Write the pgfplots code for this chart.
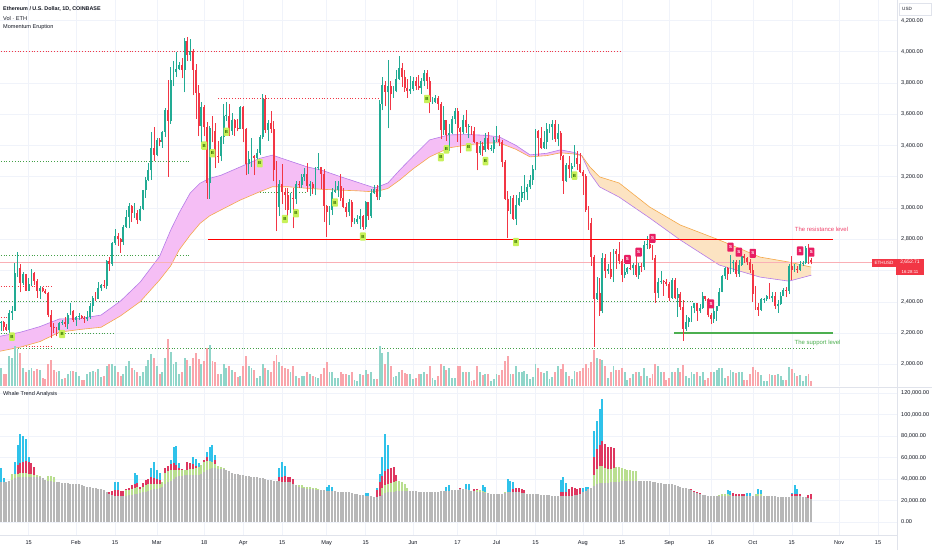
\documentclass[border=0pt]{standalone}
\usepackage{pgfplots}
\pgfplotsset{compat=1.18}
\usepackage{pgfplotstable}
\usepackage{fontspec}
\setmainfont{Liberation Sans}

\definecolor{upc}{HTML}{22AB94}
\definecolor{downc}{HTML}{F23645}
\definecolor{textc}{HTML}{131722}
\definecolor{gridc}{HTML}{F0F3FA}
\definecolor{sepc}{HTML}{E0E3EB}
\definecolor{purpc}{HTML}{B57BE8}
\definecolor{pinkf}{HTML}{F5BEF5}
\definecolor{orc}{HTML}{F5A94A}
\definecolor{orf}{HTML}{FCE3C2}
\definecolor{cyanc}{HTML}{2FC2EA}
\definecolor{crimc}{HTML}{DE3760}
\definecolor{lgrc}{HTML}{B9DE8F}
\definecolor{grayc}{HTML}{B7B7B7}
\definecolor{bfill}{HTML}{C8F15A}
\definecolor{btext}{HTML}{2E6B00}
\definecolor{sfill}{HTML}{E91E63}
\definecolor{restextc}{HTML}{F0466E}
\definecolor{supc}{HTML}{4CAF50}
\definecolor{dotr}{HTML}{F23645}
\definecolor{dotg}{HTML}{43A047}

\newcommand{\tvf}{\fontsize{5.6}{6.5}\selectfont}
\newcommand{\tvs}{\fontsize{4.6}{5.2}\selectfont}
\newcommand{\labf}{\fontsize{4.4}{5}\selectfont\bfseries}

\pgfplotstableread{
d o h l c v g
3 2210 2295 2200 2268 22 37.5
4 2268 2280 2210 2268 18 37.5
5 2268 2275 2215 2240 12 37.5
6 2240 2260 2215 2222 12 37.5
7 2222 2350 2160 2330 30 38
8 2330 2370 2285 2344 28 39.5
9 2344 2645 2345 2585 40 41
10 2585 2717 2558 2617 37 42
11 2617 2640 2460 2522 33 42
12 2522 2590 2505 2575 18 42
13 2575 2580 2470 2472 14 42
14 2472 2555 2470 2511 16 42
15 2511 2612 2500 2587 18 42
16 2587 2590 2510 2530 15 42
17 2530 2545 2425 2467 17 42
18 2467 2500 2415 2490 16 41.5
19 2490 2495 2460 2471 8 40.5
20 2471 2480 2450 2455 7 39.5
21 2455 2465 2300 2316 22 38.5
22 2316 2345 2168 2241 26 38
23 2241 2265 2200 2236 16 37.5
24 2236 2240 2180 2218 14 37
25 2218 2270 2195 2267 15 37
26 2267 2285 2250 2268 7 36.5
27 2268 2300 2240 2255 8 36.5
28 2255 2325 2225 2318 12 36
29 2318 2390 2315 2342 15 35.5
30 2342 2350 2270 2283 15 35.5
31 2283 2310 2245 2304 14 35
32 2304 2325 2285 2309 10 35
33 2309 2315 2290 2296 6 34
34 2296 2310 2265 2290 6 33.5
35 2290 2340 2275 2300 12 33
36 2300 2395 2290 2373 14 32.5
37 2373 2435 2335 2422 15 32
38 2422 2460 2405 2420 14 31.5
39 2420 2525 2415 2485 17 31
40 2485 2515 2470 2505 9 30.5
41 2505 2540 2490 2500 10 29.5
42 2500 2665 2480 2659 20 28
43 2659 2685 2600 2641 22 26
44 2641 2785 2630 2776 22 25
45 2776 2865 2765 2823 20 24.4
46 2823 2840 2760 2804 14 24.2
47 2804 2805 2715 2785 10 24
48 2785 2890 2765 2881 12 24
49 2881 2985 2875 2942 20 24.5
50 2942 3035 2870 3014 25 25
51 3014 3020 2910 2967 18 25.5
52 2967 3030 2935 2971 16 26
53 2971 2990 2900 2921 14 26.5
54 2921 3010 2915 2992 10 27
55 2992 3115 2985 3112 14 27.5
56 3112 3200 3065 3178 20 28
57 3178 3285 3170 3242 26 29
58 3242 3489 3180 3384 32 29.5
59 3384 3520 3300 3341 28 30.5
60 3341 3450 3330 3433 20 31
61 3433 3445 3395 3421 12 31.5
62 3421 3490 3385 3488 14 33
63 3488 3640 3455 3627 28 35
64 3627 3822 3200 3554 47 37
65 3554 3900 3540 3818 34 38.5
66 3818 3940 3780 3870 22 40
67 3870 3995 3840 3890 24 41.5
68 3890 3935 3880 3914 12 42.8
69 3914 3960 3830 3880 14 43
70 3880 4085 3740 4066 28 43.5
71 4066 4093 3940 3982 26 43.5
72 3982 4083 3940 4003 20 44
73 4003 4015 3720 3880 28 44
74 3880 3920 3570 3735 33 44
75 3735 3785 3460 3522 27 44
76 3522 3680 3410 3644 22 45
77 3644 3660 3460 3520 25 46.5
78 3520 3550 3056 3157 38 48
79 3157 3525 3060 3514 41 49
80 3514 3590 3420 3492 25 50
81 3492 3545 3255 3335 24 50
82 3335 3430 3290 3330 12 49.5
83 3330 3460 3300 3451 12 49
84 3451 3665 3410 3590 22 49
85 3590 3675 3555 3590 18 48
86 3590 3665 3460 3491 20 47
87 3491 3610 3470 3560 16 46
88 3560 3570 3460 3510 14 45
89 3510 3570 3490 3508 9 44.5
90 3508 3655 3505 3646 10 44
91 3646 3650 3420 3503 20 43.5
92 3503 3510 3210 3280 30 43
93 3280 3365 3215 3312 20 42.5
94 3312 3445 3265 3330 18 42
95 3330 3340 3210 3317 16 42
96 3317 3375 3300 3351 8 41.5
97 3351 3465 3340 3455 10 41
98 3455 3730 3440 3697 22 40.5
99 3697 3720 3480 3502 18 40
100 3502 3560 3430 3545 16 39.5
101 3545 3620 3480 3503 14 39
102 3503 3555 3170 3240 25 38.5
103 3240 3300 2852 3007 31 38
104 3007 3180 2950 3155 24 38
105 3155 3280 3025 3101 20 37.5
106 3101 3125 2990 3082 18 37.5
107 3082 3125 2920 2985 17 37
108 2985 3095 2965 3064 14 37
109 3064 3125 2870 3056 20 35.5
110 3056 3175 3025 3156 10 34
111 3156 3175 3125 3147 8 33
112 3147 3220 3130 3200 10 32
113 3200 3255 3175 3220 10 31.5
114 3220 3290 3105 3138 14 31
115 3138 3170 3075 3156 12 30.8
116 3156 3165 3090 3131 10 30.5
117 3131 3260 3080 3255 9 30
118 3255 3355 3240 3262 8 30
119 3262 3265 3120 3215 12 29.5
120 3215 3250 2910 3013 18 29.5
121 3013 3020 2815 2972 24 29
122 2972 3015 2890 2988 14 29
123 2988 3125 2955 3103 14 28.5
124 3103 3170 3095 3117 8 28.5
125 3117 3170 3070 3138 8 28
126 3138 3220 3045 3065 14 28
127 3065 3130 3000 3005 12 28
128 3005 3030 2940 2975 12 27.5
129 2975 3055 2950 3036 11 27.5
130 3036 3050 2880 2910 14 27
131 2910 2935 2895 2912 6 26.5
132 2912 2955 2900 2929 5 26
133 2929 2995 2865 2950 12 25.5
134 2950 2955 2860 2881 11 25
135 2881 3045 2865 3036 16 24.5
136 3036 3040 2925 2946 12 24.4
137 2946 3120 2935 3094 14 24
138 3094 3145 3090 3123 7 23.5
139 3123 3145 3050 3072 7 23
140 3072 3690 3050 3665 40 24
141 3665 3840 3625 3790 33 25.5
142 3790 3815 3650 3740 22 27
143 3740 3945 3510 3780 34 27.5
144 3780 3815 3625 3729 20 28
145 3729 3780 3705 3747 9 28
146 3747 3885 3740 3826 10 28.5
147 3826 3975 3820 3893 14 28.5
148 3893 3930 3775 3841 16 29
149 3841 3880 3745 3766 13 29
150 3766 3825 3705 3748 12 29
151 3748 3845 3730 3762 12 29
152 3762 3835 3750 3815 7 28.5
153 3815 3840 3755 3781 8 28.5
154 3781 3850 3755 3767 12 28
155 3767 3830 3730 3810 12 28
156 3810 3885 3780 3866 14 27.5
157 3866 3880 3760 3812 12 27.5
158 3812 3840 3605 3678 20 27.5
159 3678 3710 3665 3681 8 27.5
160 3681 3720 3670 3706 6 28
161 3706 3715 3630 3668 10 28
162 3668 3675 3440 3497 22 28.5
163 3497 3655 3470 3560 20 28.5
164 3560 3565 3430 3470 16 29
165 3470 3535 3365 3482 18 29
166 3482 3590 3475 3568 8 29.5
167 3568 3640 3540 3620 8 30
168 3620 3640 3425 3510 20 30
169 3510 3515 3355 3484 20 30.5
170 3484 3595 3475 3560 14 30.8
171 3560 3625 3480 3517 14 30.5
172 3517 3535 3445 3518 14 30
173 3518 3525 3470 3495 5 29
174 3495 3515 3415 3420 6 28.5
175 3420 3425 3240 3352 20 28
176 3352 3430 3340 3395 14 27.5
177 3395 3425 3330 3372 11 27.5
178 3372 3480 3360 3446 12 27
179 3446 3485 3370 3376 12 27
180 3376 3400 3365 3380 5 26.5
181 3380 3455 3355 3434 7 26.5
182 3434 3525 3425 3440 12 26
183 3440 3465 3395 3420 11 26
184 3420 3435 3260 3295 16 26.5
185 3295 3310 3050 3060 25 27
186 3060 3110 2810 2980 30 27.5
187 2980 3075 2960 3065 12 27.5
188 3065 3085 2925 2931 12 27.5
189 2931 3085 2890 3020 20 27.5
190 3020 3105 3015 3065 14 27.5
191 3065 3140 3040 3100 14 27
192 3100 3210 3050 3100 15 27
193 3100 3155 3050 3135 12 26.5
194 3135 3210 3120 3178 7 26.5
195 3178 3275 3150 3250 9 26
196 3250 3505 3240 3490 22 26
197 3490 3500 3335 3445 18 26
198 3445 3515 3375 3385 14 25.5
199 3385 3490 3380 3425 13 25.5
200 3425 3545 3375 3504 15 25
201 3504 3540 3480 3517 7 25
202 3517 3560 3435 3535 9 24.5
203 3535 3565 3425 3443 14 24.5
204 3443 3540 3395 3482 20 24.5
205 3482 3490 3305 3335 17 24.4
206 3335 3340 3090 3174 22 24.4
207 3174 3290 3165 3275 14 24.4
208 3275 3330 3195 3249 10 24.4
209 3249 3285 3195 3270 7 24.5
210 3270 3400 3265 3318 15 25
211 3318 3365 3245 3280 14 25.5
212 3280 3350 3225 3232 15 26.5
213 3232 3245 3085 3205 18 27.5
214 3205 3220 2975 2990 22 29
215 2990 3015 2860 2905 18 30.5
216 2905 2935 2630 2687 24 32
217 2687 2700 2111 2420 36 33.5
218 2420 2560 2410 2457 28 35
219 2457 2550 2310 2344 27 36
220 2344 2715 2325 2683 26 36.4
221 2683 2705 2555 2600 20 36.5
222 2600 2640 2580 2611 8 36.5
223 2611 2720 2545 2556 14 37
224 2556 2740 2525 2724 20 37
225 2724 2735 2610 2704 16 37.5
226 2704 2780 2640 2663 16 37.5
227 2663 2675 2525 2570 18 38
228 2570 2640 2550 2590 14 38
229 2590 2625 2580 2614 6 38
230 2614 2690 2605 2613 8 38
231 2613 2650 2570 2638 12 38
232 2638 2695 2560 2574 14 38
233 2574 2645 2545 2630 14 38
234 2630 2645 2590 2623 10 38
235 2623 2790 2605 2765 18 38
236 2765 2820 2740 2770 10 38
237 2770 2795 2735 2746 8 38
238 2746 2765 2670 2680 12 37.5
239 2680 2700 2395 2458 22 37
240 2458 2555 2425 2525 20 36.5
241 2525 2595 2515 2530 14 36
242 2530 2540 2440 2526 14 35.5
243 2526 2545 2500 2514 6 35.5
244 2514 2525 2405 2426 8 35
245 2426 2555 2420 2538 14 35
246 2538 2555 2415 2425 14 34.3
247 2425 2490 2305 2450 18 33.5
248 2450 2465 2350 2368 14 33
249 2368 2410 2150 2225 21 32
250 2225 2315 2215 2273 10 31.5
251 2273 2300 2240 2296 8 30.8
252 2296 2375 2270 2360 14 29.5
253 2360 2395 2325 2389 12 28
254 2389 2390 2280 2340 14 27
255 2340 2385 2330 2360 10 26
256 2360 2460 2355 2437 14 25.5
257 2437 2440 2405 2418 6 25
258 2418 2425 2300 2316 8 24.5
259 2316 2328 2255 2292 14 24.4
260 2292 2395 2265 2342 14 24.4
261 2342 2375 2280 2371 16 24.4
262 2371 2490 2370 2465 18 24.4
263 2465 2570 2460 2562 18 24.4
264 2562 2620 2545 2613 8 24.4
265 2613 2620 2540 2580 10 24.4
266 2580 2700 2575 2646 16 24.4
267 2646 2670 2590 2655 14 24.4
268 2655 2670 2560 2580 13 24.4
269 2580 2665 2560 2633 14 24.4
270 2633 2725 2630 2695 14 24.4
271 2695 2705 2650 2677 6 24.4
272 2677 2685 2635 2657 6 24.4
273 2657 2675 2585 2602 12 24.4
274 2602 2640 2400 2448 19 24.4
275 2448 2500 2350 2365 16 24.4
276 2365 2395 2310 2349 14 24.4
277 2349 2425 2340 2415 11 24.4
278 2415 2425 2395 2415 5 24.4
279 2415 2445 2405 2439 5 24.4
280 2439 2520 2415 2423 12 24.4
281 2423 2465 2400 2440 11 24.4
282 2440 2465 2355 2370 11 24.4
283 2370 2410 2330 2385 12 23
284 2385 2465 2380 2437 10 23
285 2437 2485 2435 2475 6 23
286 2475 2495 2430 2470 6 23
287 2470 2640 2450 2630 19 23.5
288 2630 2690 2540 2606 17 24.4
289 2606 2640 2590 2611 13 24.4
290 2611 2630 2585 2605 10 24.4
291 2605 2660 2600 2644 11 24.4
292 2644 2660 2630 2650 5 23.5
293 2650 2760 2640 2745 10 23
294 2745 2770 2640 2667 12 22.5
295 2667 2680 2640 2652.71 5 21.5
}\candles

\pgfplotstableread{
d p o
3 2177 2081
11 2205 2110
18 2241 2145
25 2290 2205
32 2292 2222
40 2315 2237
47 2405 2310
54 2525 2400
61 2690 2539
65 2859 2630
68 2968 2731
72 3096 2827
75.5 3158 2901
79 3190 2950
83 3209 2987
90 3263 3051
97 3318 3104
101.5 3338 3136
107 3305 3136
114 3263 3126
119 3243 3120
126 3200 3114
132 3165 3110
138.3 3128 3103
143 3160 3125
147.3 3244 3180
152 3330 3250
158 3436 3327
165 3468 3385
172 3470 3405
178 3465 3415
183 3455 3417
189 3400 3375
194 3340 3327
200 3350 3335
205 3372 3353
210 3355 3345
212.6 3335 3335
}\bandA

\pgfplotstableread{
d p o
212.6 3335 3335
215.5 3223 3263
219 3135 3199
226 3070 3160
237 2936 3006
248 2795 2891
262 2635 2795
276.6 2558 2686
287 2532 2654
295 2570 2622
}\bandB

\pgfplotstableread{
d v
4 50
5 41
9 56
10 72
11 82
12 80
13 77
14 60
45 37
46 37
52 46
53 44
58 50
59 56
60 48
61 46
65 58
66 70
67 71
68 55
73 60
74 59
75 55
78 65
79 70
80 72
81 62
104 50
105 56
106 52
121 33
122 34
123 33
135 27
136 27
139 32
140 45
141 60
142 82
143 72
164 33
165 34
171 35
172 35
177 34
178 33
186 40
187 38
188 37
205 39
206 42
207 36
213 32
214 33
215 33
217 85
218 94
219 105
220 114
248 31
249 31
250 28
265 30
266 29
272 27
273 27
276 31
277 30
288 27
289 34
290 31
}\cyant

\pgfplotstableread{
d v
8 40
10 53
11 55
12 56
13 57
14 56
15 55
16 51
43 28
44 29
45 30
46 30
47 29
48 29
49 31
50 32
51 34
52 35
53 36
54 33
55 36
56 39
57 40
58 42
59 41
60 40
61 39
63 50
64 52
65 54
66 55
67 53
68 50
69 49
70 48
71 56
72 55
73 54
74 52
77 58
78 60
81 58
82 48
104 42
105 42
106 43
107 42
108 42
109 40
139 30
140 37
141 43
142 47
143 49
144 50
145 51
146 44
169 32
174 31
175 31
176 30
188 31
189 32
190 32
191 31
192 30
205 28
206 28
207 28
208 31
209 33
210 32
211 31
212 32
217 60
218 68
219 72
220 75
221 73
222 70
223 70
224 69
252 31
253 29
254 28
255 27
267 27
268 26
269 26
270 26
271 26
288 26
289 26
290 26
291 26
294 25
295 26
}\redt

\pgfplotstableread{
d v
8 45
9 45
10 45
11 46
12 46
13 46
14 45
15 45
16 44
17 44
18 43
21 43
22 43
23 42
49 30
50 30
51 31
52 32
53 33
54 31
55 33
56 34
57 35
58 35
59 35
60 35
61 35
62 37
63 46
64 47
65 48
66 48
67 48
68 48
69 48
70 48
71 48
72 49
73 49
74 50
75 51
76 53
77 56
78 57
79 57
80 56
81 54
82 52
83 51
84 50
110 34
111 34
112 34
113 33
114 33
115 33
116 32
117 32
118 31
141 32
142 34
143 35
144 36
145 37
146 38
147 38
148 37
149 35
150 32
175 30
176 30
177 29
178 28
179 27
185 28
186 28
187 28
188 28
189 28
217 44
218 49
219 52
220 52
221 50
222 49
223 49
224 50
225 51
226 51
227 50
228 49
229 48
230 48
231 47
232 47
262 25
263 26
264 26
265 26
266 25
275 26
276 26
277 26
}\greent

\pgfplotsset{
  tvaxis/.style={
    scale only axis, width=897bp,
    xmin=3.7, xmax=325.8,
    axis line style={draw=none}, tick style={draw=none}, major tick length=0pt,
    grid=major, grid style={draw=gridc, line width=0.5bp},
    xtick={14,31,45,60,77,91,105,121,135,152,168,182,196,213,227,244,259,274,288,305,319},
    yticklabel pos=right,
    yticklabel style={font=\tvf, text=textc, anchor=west, inner sep=0pt, xshift=4bp},
    clip=true,
  },
  dotline/.style={line width=0.9bp, dash pattern=on 0.9bp off 1.9bp, forget plot},
  lab/.style={only marks, mark=*, mark size=0pt, mark options={draw=none,fill=none},
    point meta=explicit symbolic, nodes near coords},
}

\begin{document}
\begin{tikzpicture}[x=1bp,y=1bp]
\fill[white] (0,0) rectangle (932,550);
\path[use as bounding box] (0,0) rectangle (932,550);

% ---------- main price panel ----------
\begin{axis}[tvaxis, at={(0bp,164bp)}, anchor=south west, height=386bp,
  ymin=1861.2, ymax=4330.8,
  ytick={2000,2200,2400,2600,2800,3000,3200,3400,3600,3800,4000,4200},
  yticklabels={{2,000.00},{2,200.00},{2,400.00},{},{2,800.00},{3,000.00},{3,200.00},{3,400.00},{3,600.00},{3,800.00},{4,000.00},{4,200.00}},
  xticklabels={}]

% dotted levels
\addplot[dotline, color=dotr] coordinates {(3,4000) (226.3,4000)};
\addplot[dotline, color=dotr] coordinates {(82,3700) (140.1,3700)};
\addplot[dotline, color=dotr] coordinates {(3,2500) (22.7,2500)};
\addplot[dotline, color=dotr] coordinates {(3,2300) (9,2300)};
\addplot[dotline, color=dotr] coordinates {(3,2117) (22.7,2117)};
\addplot[dotline, color=dotg] coordinates {(3,3296) (71.9,3296)};
\addplot[dotline, color=dotg] coordinates {(74.9,3098) (114,3098)};
\addplot[dotline, color=dotg] coordinates {(3,2695) (71.9,2695)};
\addplot[dotline, color=dotg] coordinates {(3,2400) (253.3,2400)};
\addplot[dotline, color=dotg] coordinates {(3,2200) (45,2200)};
\addplot[dotline, color=dotg] coordinates {(3,2100) (295.6,2100)};

% momentum band fills (upper line forward, lower line back)
\addplot[fill=pinkf, draw=none, forget plot] coordinates {
(3,2177) (11,2205) (18,2241) (25,2290) (32,2292) (40,2315) (47,2405) (54,2525) (61,2690) (65,2859) (68,2968) (72,3096) (75.5,3158) (79,3190) (83,3209) (90,3263) (97,3318) (101.5,3338) (107,3305) (114,3263) (119,3243) (126,3200) (132,3165) (138.3,3128) (143,3160) (147.3,3244) (152,3330) (158,3436) (165,3468) (172,3470) (178,3465) (183,3455) (189,3400) (194,3340) (200,3350) (205,3372) (210,3355) (212.6,3335)
(210,3345) (205,3353) (200,3335) (194,3327) (189,3375) (183,3417) (178,3415) (172,3405) (165,3385) (158,3327) (152,3250) (147.3,3180) (143,3125) (138.3,3103) (132,3110) (126,3114) (119,3120) (114,3126) (107,3136) (101.5,3136) (97,3104) (90,3051) (83,2987) (79,2950) (75.5,2901) (72,2827) (68,2731) (65,2630) (61,2539) (54,2400) (47,2310) (40,2237) (32,2222) (25,2205) (18,2145) (11,2110) (3,2081)};
\addplot[fill=orf, draw=none, forget plot] coordinates {
(212.6,3335) (215.5,3223) (219,3135) (226,3070) (237,2936) (248,2795) (262,2635) (276.6,2558) (287,2532) (295,2570)
(295,2622) (287,2654) (276.6,2686) (262,2795) (248,2891) (237,3006) (226,3160) (219,3199) (215.5,3263) (212.6,3335)};
\addplot[color=purpc, line width=0.6bp, forget plot] table[x=d,y=p] {\bandA};
\addplot[color=orc, line width=0.6bp, forget plot] table[x=d,y=o] {\bandA};
\addplot[color=purpc, line width=0.6bp, forget plot] table[x=d,y=p] {\bandB};
\addplot[color=orc, line width=0.6bp, forget plot] table[x=d,y=o] {\bandB};

% volume
\addplot[quiver={u=0,v={\thisrow{v}*6.398}}, color=upc!50!white, line width=1.9bp, mark=none,
  restrict expr to domain={\thisrow{c}-\thisrow{o}}{0:100000}]
  table[x=d, y expr=1861.2] {\candles};
\addplot[quiver={u=0,v={\thisrow{v}*6.398}}, color=downc!45!white, line width=1.9bp, mark=none,
  restrict expr to domain={\thisrow{c}-\thisrow{o}}{-100000:-0.001}]
  table[x=d, y expr=1861.2] {\candles};

% current price and support
\addplot[color=downc!40!white, line width=0.6bp, forget plot] coordinates {(3,2652.71) (326,2652.71)};
\addplot[draw=supc, line width=1.1bp, mark=none, forget plot] coordinates {(245.7,2200) (302.8,2200)};

% candles: wicks
\addplot[quiver={u=0,v={\thisrow{h}-\thisrow{l}}}, color=upc, line width=0.55bp, mark=none,
  restrict expr to domain={\thisrow{c}-\thisrow{o}}{0:100000}]
  table[x=d, y=l] {\candles};
\addplot[quiver={u=0,v={\thisrow{h}-\thisrow{l}}}, color=downc, line width=0.55bp, mark=none,
  restrict expr to domain={\thisrow{c}-\thisrow{o}}{-100000:-0.001}]
  table[x=d, y=l] {\candles};
% candles: bodies
\addplot[quiver={u=0,v={max(\thisrow{c}-\thisrow{o},5)}}, color=upc, line width=1.9bp, mark=none,
  restrict expr to domain={\thisrow{c}-\thisrow{o}}{0:100000}]
  table[x=d, y=o] {\candles};
\addplot[quiver={u=0,v={min(\thisrow{c}-\thisrow{o},-5)}}, color=downc, line width=1.9bp, mark=none,
  restrict expr to domain={\thisrow{c}-\thisrow{o}}{-100000:-0.001}]
  table[x=d, y=o] {\candles};

% resistance level
\addplot[red, solid, line width=1.3bp, mark=none, forget plot]
  coordinates {(78.4,2800) (302.8,2800)};

% B / S signals
\addplot[lab, every node near coord/.append style={anchor=center, fill=bfill, text=btext, font=\labf,
  inner sep=0pt, minimum width=5.8bp, minimum height=8.3bp, rounded corners=0.8bp}]
  coordinates {(8,2177)[B] (26,2194)[B] (77,3399)[B] (80,3350)[B] (85,3488)[B] (97,3286)[B]
  (106,2930)[B] (110,2966)[B] (124,3035)[B] (134,2817)[B] (157,3697)[B] (162,3324)[B]
  (164,3375)[B] (172,3388)[B] (178,3300)[B] (189,2782)[B] (210,3207)[B]};
\addplot[lab, every node near coord/.append style={anchor=center, fill=sfill, text=white, font=\labf,
  inner sep=0pt, minimum width=6.4bp, minimum height=9bp, rounded corners=0.8bp}]
  coordinates {(229,2672)[S] (233,2717)[S] (238,2806)[S] (259,2386)[S] (266,2749)[S]
  (269,2717)[S] (274,2710)[S] (291,2725)[S] (295,2717)[S]};

\node[font=\fontsize{6}{7}\selectfont, text=restextc] at (axis cs:298.7,2865) {The resistance level};
\node[font=\fontsize{6}{7}\selectfont, text=supc] at (axis cs:297.3,2134) {The support level};
\end{axis}

% ---------- whale panel ----------
\begin{axis}[tvaxis, at={(0bp,15bp)}, anchor=south west, height=147bp,
  ymin=-12.093, ymax=124.651,
  ytick={0,20,40,60,80,100,120},
  yticklabels={{0.00},{20,000.00},{40,000.00},{60,000.00},{80,000.00},{100,000.00},{120,000.00}},
  xticklabels={15,Feb,15,Mar,18,Apr,15,May,15,Jun,17,Jul,15,Aug,15,Sep,16,Oct,15,Nov,15},
  xticklabel style={font=\tvf, text=textc, anchor=north, inner sep=0pt, yshift=-5bp}]
\addplot[quiver={u=0,v=\thisrow{v}}, color=cyanc, line width=2bp, mark=none] table[x=d, y expr=0] {\cyant};
\addplot[quiver={u=0,v=\thisrow{v}}, color=crimc, line width=2bp, mark=none] table[x=d, y expr=0] {\redt};
\addplot[quiver={u=0,v=\thisrow{v}}, color=lgrc, line width=2bp, mark=none] table[x=d, y expr=0] {\greent};
\addplot[quiver={u=0,v=\thisrow{g}}, color=grayc, line width=2bp, mark=none] table[x=d, y expr=0] {\candles};
\end{axis}

% separators
\draw[sepc, line width=0.7bp] (0,163) -- (932,163);
\draw[sepc, line width=0.5bp] (0,15) -- (897,15);
\draw[sepc, line width=0.7bp] (897,0) -- (897,550);

% titles
\node[anchor=west, font=\fontsize{5.4}{6.2}\selectfont\bfseries, text=textc, inner sep=0pt] at (3,541) {Ethereum / U.S. Dollar, 1D, COINBASE};
\node[anchor=west, font=\tvf, text=textc, inner sep=0pt] at (3,531.5) {Vol · ETH};
\node[anchor=west, font=\tvf, text=textc, inner sep=0pt] at (3,523) {Momentum Eruption};
\node[anchor=west, font=\tvf, text=textc, inner sep=0pt] at (3,156) {Whale Trend Analysis};

% USD box
\draw[sepc, line width=0.5bp] (899.5,535) rectangle (931.5,547);
\node[anchor=west, font=\tvs, text=textc, inner sep=0pt] at (902,541) {USD};

% price label
\fill[downc] (872,283.3) rectangle (896,291.3);
\node[font=\tvs, text=white, inner sep=0pt] at (884,287.3) {ETHUSD};
\fill[downc] (896,274.5) rectangle (924,291.3);
\node[font=\fontsize{5}{5.6}\selectfont, text=white, inner sep=0pt] at (910,288) {2,652.71};
\node[font=\fontsize{4.4}{5}\selectfont, text=white, inner sep=0pt] at (910,278.5) {16:28:11};
\end{tikzpicture}
\end{document}
